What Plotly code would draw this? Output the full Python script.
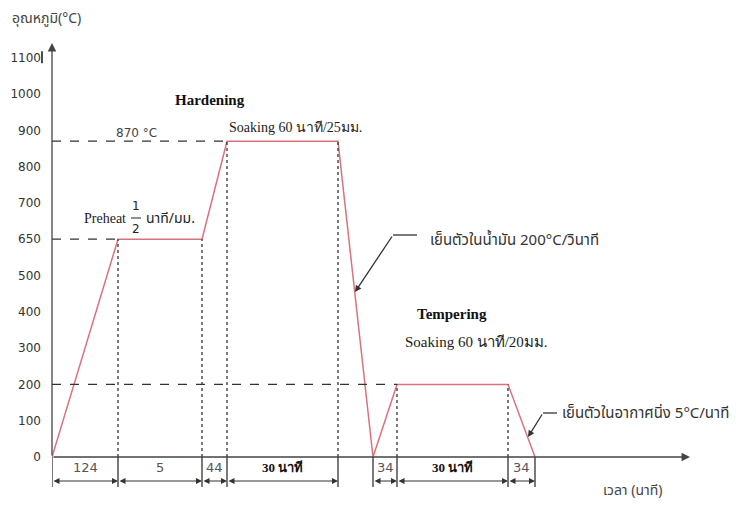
import numpy as np
import plotly.graph_objects as go

# ---- data ----
tick_labels = [0, 100, 200, 300, 400, 500, 650, 700, 800, 900, 1000, 1100]
# schematic time marks (not to scale, as in the original sketch)
time_marks = [0, 66, 150, 175, 286, 321, 345, 456, 483]
temperatures = [0, 650, 650, 870, 870, 0, 200, 200, 0]
segment_labels = ["124", "5", "44", "30 นาที", None, "34", "30 นาที", "34"]
segment_bold = [False, False, False, True, False, False, True, False]

# the sketch's y-axis is evenly spaced by label, so map temperature -> label slot
tick_pos = np.arange(len(tick_labels)) * 100.0
def ty(t):
    return float(np.interp(t, tick_labels, tick_pos))

yd = [ty(t) for t in temperatures]

PX = 0.363  # display units per px (vertical)
def py(pixel_y):  # pixel row -> display y
    return (457 - pixel_y) / PX
def px(pixel_x):
    return pixel_x - 52

THAI = "Noto Sans Thai, Tahoma, sans-serif"
SERIF = "Liberation Serif, DejaVu Serif, serif"
SANS = "DejaVu Sans, Verdana, sans-serif"
DARK = "#333333"
RED = "#d9737b"

fig = go.Figure()
fig.add_trace(go.Scatter(x=time_marks, y=yd, mode="lines",
                         line=dict(color=RED, width=1.5), cliponaxis=False,
                         hoverinfo="skip", showlegend=False))

shapes = []
ann = []
dash_h = dict(color=DARK, width=1.3, dash="dash")
dash_v = dict(color=DARK, width=1.3, dash="dot")
# horizontal guide lines
for (xi, t) in [(1, 650), (3, 870), (6, 200)]:
    shapes.append(dict(type="line", xref="x", yref="y", x0=0, x1=time_marks[xi],
                       y0=ty(t), y1=ty(t), line=dash_h))
# vertical guide lines
for xi in [1, 2, 3, 4, 6, 7]:
    shapes.append(dict(type="line", xref="x", yref="y", x0=time_marks[xi], x1=time_marks[xi],
                       y0=0, y1=ty(temperatures[xi]), line=dash_v))

# extension ticks below axis
for xm in time_marks:
    shapes.append(dict(type="line", xref="x", yref="y", x0=xm, x1=xm,
                       y0=0, y1=py(487), line=dict(color=DARK, width=1.3)))

# dimension arrows + labels
ydim = py(481)
for i, lab in enumerate(segment_labels):
    if lab is None:
        continue
    x0, x1 = time_marks[i], time_marks[i + 1]
    ann.append(dict(x=x1, y=ydim, ax=x0, ay=ydim, xref="x", yref="y", axref="x", ayref="y",
                    text="", showarrow=True, arrowhead=2, arrowside="end+start",
                    arrowsize=1, arrowwidth=1.2, arrowcolor=DARK, standoff=0, startstandoff=0))
    ann.append(dict(x=(x0 + x1) / 2, y=py(467), xref="x", yref="y",
                    text=(f"<b>{lab}</b>" if segment_bold[i] else lab),
                    showarrow=False,
                    font=dict(family=(SERIF if segment_bold[i] else SANS), size=13,
                              color="#111" if segment_bold[i] else "#555")))

# axes as arrows
ann.append(dict(x=0, y=py(43), ax=0, ay=0, xref="x", yref="y", axref="x", ayref="y", text="",
                showarrow=True, arrowhead=2, arrowsize=1.3, arrowwidth=1.3, arrowcolor="#444", standoff=0))
ann.append(dict(x=px(690), y=0, ax=0, ay=0, xref="x", yref="y", axref="x", ayref="y", text="",
                showarrow=True, arrowhead=2, arrowsize=1.3, arrowwidth=1.3, arrowcolor="#444", standoff=0))

# texts
def txt(x, y, s, family, size, color="#222", xanchor="center", **kw):
    d = dict(x=x, y=y, xref="x", yref="y", text=s, showarrow=False,
             font=dict(family=family, size=size, color=color), xanchor=xanchor, yanchor="middle")
    d.update(kw)
    ann.append(d)

txt(px(210), py(100), "<b>Hardening</b>", SERIF, 15, "#111")
txt(px(136), py(133), "870 °C", SANS, 12, "#444")
txt(px(227), py(127), "Soaking 60 นาที/25มม.", SERIF, 14, "#222", xanchor="left")
txt(px(82), py(218), "Preheat", SERIF, 14, "#222", xanchor="left")
txt(px(136), py(206), "1", SANS, 12, "#222")
txt(px(136), py(229), "2", SANS, 12, "#222")
shapes.append(dict(type="line", xref="x", yref="y", x0=px(131), x1=px(141), y0=py(218), y1=py(218),
                   line=dict(color="#222", width=1)))
txt(px(144), py(218), "นาที/มม.", THAI, 14, "#222", xanchor="left")
txt(px(428), py(240), "เย็นตัวในน้ำมัน 200°C/วินาที", THAI, 15, "#333", xanchor="left")
txt(px(452), py(314), "<b>Tempering</b>", SERIF, 15, "#111")
txt(px(403), py(342), "Soaking 60 นาที/20มม.", SERIF, 15, "#222", xanchor="left")
txt(px(560), py(413), "เย็นตัวในอากาศนิ่ง 5°C/นาที", THAI, 15, "#333", xanchor="left")
txt(px(632), py(490), "เวลา (นาที)", THAI, 14, "#444")
ann.append(dict(x=10 / 736, y=1 - 18 / 505, xref="paper", yref="paper", text="อุณหภูมิ(°C)",
                showarrow=False, xanchor="left", yanchor="middle",
                font=dict(family=THAI, size=14, color="#444")))

# leader lines with arrows
shapes.append(dict(type="line", xref="x", yref="y", x0=px(417), x1=px(393), y0=py(235), y1=py(235),
                   line=dict(color=DARK, width=1.3)))
ann.append(dict(x=px(355), y=py(292), ax=px(393), ay=py(235), xref="x", yref="y", axref="x", ayref="y",
                text="", showarrow=True, arrowhead=2, arrowsize=1, arrowwidth=1.3, arrowcolor=DARK, standoff=0))
shapes.append(dict(type="line", xref="x", yref="y", x0=px(557), x1=px(543), y0=py(413), y1=py(413),
                   line=dict(color=DARK, width=1.3)))
ann.append(dict(x=px(528), y=py(437), ax=px(543), ay=py(413), xref="x", yref="y", axref="x", ayref="y",
                text="", showarrow=True, arrowhead=2, arrowsize=1, arrowwidth=1.3, arrowcolor=DARK, standoff=0))
# text cursor next to "1100"
shapes.append(dict(type="line", xref="paper", yref="y", x0=42 / 736, x1=42 / 736,
                   y0=ty(1100) - 15, y1=ty(1100) + 18, line=dict(color="#111", width=1.5)))

fig.update_layout(
    width=736, height=505, autosize=False,
    margin=dict(l=0, r=0, t=0, b=0),
    plot_bgcolor="white", paper_bgcolor="white",
    shapes=shapes, annotations=ann,
    xaxis=dict(domain=[52 / 736, 1], range=[0, 684], showgrid=False, zeroline=False,
               showticklabels=False, showline=False, fixedrange=True),
    yaxis=dict(range=[py(505), py(0)], showgrid=False, zeroline=False, showline=False,
               tickvals=list(tick_pos), ticktext=[str(v) for v in tick_labels],
               ticks="", ticklabelstandoff=10,
               tickfont=dict(family=SANS, size=12, color="#333"), fixedrange=True),
)

fig.write_html("out.html", config={"displayModeBar": False},
               post_script="document.body.style.margin='0';")
